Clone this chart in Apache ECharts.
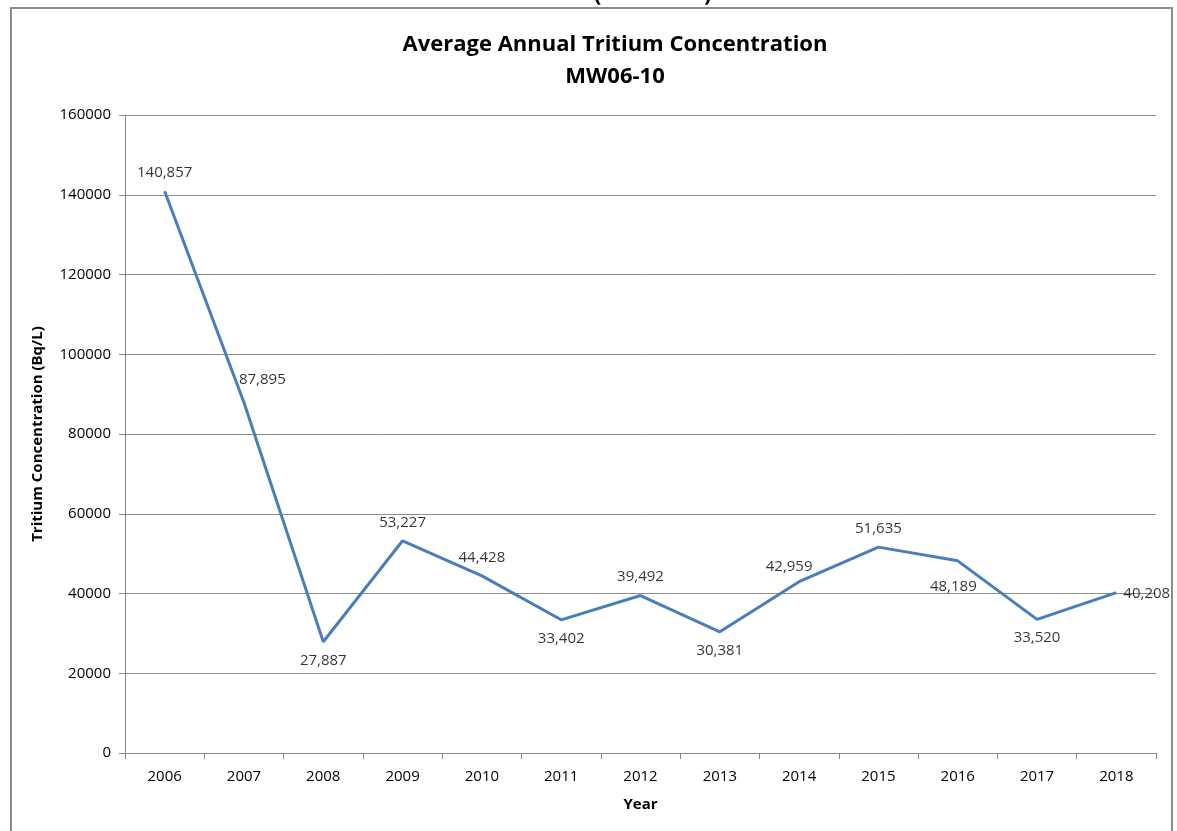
<!DOCTYPE html>
<html><head><meta charset="utf-8">
<script src="https://cdn.jsdelivr.net/npm/echarts@6/dist/echarts.min.js"></script>
<style>html,body{margin:0;padding:0;background:#fff}#c{width:1177px;height:831px}</style>
</head><body><div id="c"></div>
<script>
const years = ['2006','2007','2008','2009','2010','2011','2012','2013','2014','2015','2016','2017','2018'];
const tritium = [140857, 87895, 27887, 53227, 44428, 33402, 39492, 30381, 42959, 51635, 48189, 33520, 40208];
const yTicks = [0, 20000, 40000, 60000, 80000, 100000, 120000, 140000, 160000];

// label placement (styling only)
const labelPlace = ['top','right','bottom','top','top','bottom','top','bottom','top','top','left','bottom','right'];
const labelOffset = [[0,0],[-16,-23],[0,0],[0,0],[0,0],[0,0],[0,0],[0,0],[-10,4],[0,0],[30,26],[0,0],[-4,1]];

const font = '"Open Sans", "Liberation Sans", sans-serif';
const chart = echarts.init(document.getElementById('c'));
chart.setOption({
  animation: false,
  backgroundColor: '#fff',
  title: {
    text: 'Average Annual Tritium Concentration\nMW06-10',
    left: 610, top: 24, textAlign: 'center',
    textStyle: { fontFamily: font, fontWeight: 'bold', fontSize: 22, lineHeight: 32, color: '#000' }
  },
  graphic: [
    { type: 'rect', shape: { x: 11, y: 8, width: 1161, height: 840 }, style: { fill: 'none', stroke: '#8c8c8c', lineWidth: 2 }, silent: true },
    { type: 'text', left: 594, top: -16, style: { text: '(', fontSize: 22, fontWeight: 'bold', fontFamily: font, fill: '#000' } },
    { type: 'text', left: 704, top: -16, style: { text: ')', fontSize: 22, fontWeight: 'bold', fontFamily: font, fill: '#000' } }
  ],
  grid: { left: 125, right: 21, top: 115, bottom: 78, containLabel: false },
  xAxis: {
    type: 'category', data: years, boundaryGap: true,
    name: 'Year', nameLocation: 'middle', nameGap: 44,
    nameTextStyle: { fontFamily: font, fontWeight: 'bold', fontSize: 15, color: '#000' },
    axisLine: { lineStyle: { color: '#888', width: 1 } },
    axisTick: { show: true, alignWithLabel: false, length: 6, lineStyle: { color: '#888' } },
    axisLabel: { fontFamily: font, fontSize: 15, color: '#000', margin: 16 }
  },
  yAxis: {
    type: 'value', min: 0, max: 160000, interval: 20000,
    name: 'Tritium Concentration (Bq/L)', nameLocation: 'middle', nameGap: 80, nameRotate: 90,
    nameTextStyle: { fontFamily: font, fontWeight: 'bold', fontSize: 15, color: '#000' },
    axisLine: { show: true, lineStyle: { color: '#888', width: 1 } },
    axisTick: { show: true, length: 6, lineStyle: { color: '#888' } },
    axisLabel: { fontFamily: font, fontSize: 15, color: '#000', margin: 14,
      formatter: v => yTicks.includes(v) ? String(v) : '' },
    splitLine: { lineStyle: { color: '#8c8c8c', width: 1 } }
  },
  series: [{
    type: 'line',
    data: tritium,
    symbol: 'none',
    lineStyle: { color: '#4a7ebb', width: 3 }
  }, {
    type: 'scatter',
    data: tritium.map((v, i) => ({
      value: v,
      label: { position: labelPlace[i], offset: labelOffset[i] }
    })),
    symbol: 'circle', symbolSize: 2,
    itemStyle: { color: 'rgba(0,0,0,0)' },
    z: 5,
    label: {
      show: true, distance: 10,
      fontFamily: font, fontSize: 15, color: '#000',
      formatter: p => Number(p.value).toLocaleString('en-US')
    }
  }]
});
</script></body></html>
